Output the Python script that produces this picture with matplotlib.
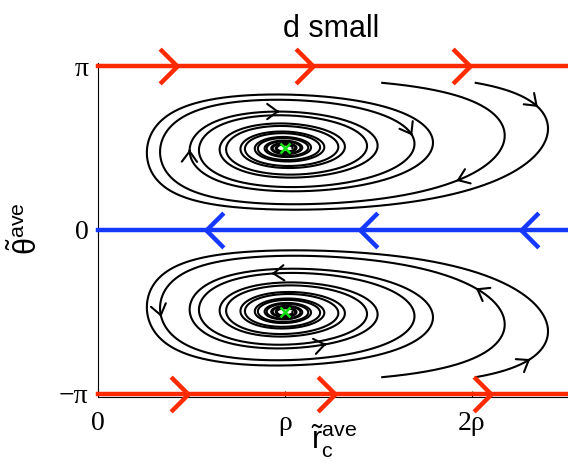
import numpy as np
import matplotlib
matplotlib.use("Agg")
import matplotlib.pyplot as plt
from matplotlib.path import Path
from matplotlib.markers import MarkerStyle

# averaged model parameters
rho = 1.0
k_turn = 2.0
c_lin = 0.07
c_cub = 0.095
d_damp = 0.11

# invariant lines and the chevrons on them (r positions of the tips)
line_theta = [np.pi, 0.0, -np.pi]
red_top_arrows = [0.42, 1.15, 1.99]
red_bottom_arrows = [0.48, 1.27, 2.10]
blue_arrows = [0.58, 1.40, 2.26]

# trajectory starts just inside the red lines
start_r = [1.52, 2.02]
start_theta = 2.82
run_time = [36.0, 38.0]

# where the direction arrows sit on the trajectories
arrows_upper = [(0.97, 2.27), (0.50, 1.54), (1.64, 1.73), (1.92, 0.90), (2.34, 2.31)]
arrows_lower = [(0.93, -0.90), (0.37, -1.63), (1.22, -2.15), (2.03, -1.06), (2.31, -2.46)]

xticks = [0, rho, 2 * rho]
xticklabels = ["0", "ρ", "2ρ"]
yticks = [-np.pi, 0, np.pi]
yticklabels = ["\u2212π", "0", "π"]

red = "#ff2a00"
blue = "#1438ff"
green = "#11e011"


def flow(r, th):
    u = r - rho
    dr = -np.cos(th) - c_lin * u - c_cub * u ** 3
    dth = -k_turn * u / np.sqrt(r / rho) * np.sin(th) + d_damp * np.sin(th) * np.cos(th)
    return dr, dth


def integrate(r0, th0, t_end, dt=0.005):
    n = int(t_end / dt)
    rs = np.empty(n + 1)
    ths = np.empty(n + 1)
    r, th = r0, th0
    rs[0], ths[0] = r, th
    for i in range(n):
        k1 = flow(r, th)
        k2 = flow(r + dt / 2 * k1[0], th + dt / 2 * k1[1])
        k3 = flow(r + dt / 2 * k2[0], th + dt / 2 * k2[1])
        k4 = flow(r + dt * k3[0], th + dt * k3[1])
        r += dt / 6 * (k1[0] + 2 * k2[0] + 2 * k3[0] + k4[0])
        th += dt / 6 * (k1[1] + 2 * k2[1] + 2 * k3[1] + k4[1])
        rs[i + 1], ths[i + 1] = r, th
    return rs, ths


plt.rcParams["mathtext.fontset"] = "custom"
plt.rcParams["mathtext.rm"] = "Liberation Sans"
plt.rcParams["mathtext.it"] = "Liberation Sans"

fig = plt.figure(figsize=(5.68, 4.70), dpi=100)
ax = fig.add_axes([98 / 568, 73 / 470, 2.6 * 187 / 568, 334 / 470])
ax.set_xlim(0, 2.6)
ax.set_ylim(-3.2, 3.2)

# invariant lines
line_colors = [red, blue, red]
for th, c in zip(line_theta, line_colors):
    ax.axhline(th, color=c, lw=3.2, zorder=3, clip_on=False)

chev_right = MarkerStyle(Path([(-1, 1), (0, 0), (-1, -1)]), joinstyle="miter")
chev_left = MarkerStyle(Path([(1, 1), (0, 0), (1, -1)]), joinstyle="miter")
ax.plot(red_top_arrows, [np.pi] * len(red_top_arrows), ls="none", marker=chev_right,
        ms=25, mew=3.2, mec=red, mfc="none", zorder=3, clip_on=False)
ax.plot(red_bottom_arrows, [-np.pi] * len(red_bottom_arrows), ls="none", marker=chev_right,
        ms=25, mew=3.2, mec=red, mfc="none", zorder=3, clip_on=False)
ax.plot(blue_arrows, [0] * len(blue_arrows), ls="none", marker=chev_left,
        ms=25, mew=3.2, mec=blue, mfc="none", zorder=3)

# trajectories into the two foci
curves = []
for sign in (1, -1):
    for r0, t_end in zip(start_r, run_time):
        rs, ths = integrate(r0, sign * start_theta, t_end)
        ax.plot(rs, ths, color="black", lw=1.5, zorder=2)
        curves.append((rs, ths))

# direction arrows snapped onto the nearest trajectory
for px, py in arrows_upper + arrows_lower:
    best = None
    for rs, ths in curves:
        dist = ((rs - px) * 187) ** 2 + ((ths - py) * 52.05) ** 2
        i = int(np.argmin(dist))
        if best is None or dist[i] < best[0]:
            best = (dist[i], rs, ths, i)
    _, rs, ths, i = best
    i = max(i, 3)
    ax.annotate("", xy=(rs[i], ths[i]), xytext=(rs[i - 3], ths[i - 3]),
                arrowprops=dict(arrowstyle="->,head_length=0.75,head_width=0.55",
                                lw=1.5, color="black", shrinkA=0, shrinkB=0),
                zorder=2)

ax.plot([rho, rho], [np.pi / 2, -np.pi / 2], ls="none", marker="x", ms=7,
        mew=1.8, color=green, zorder=4)

ax.spines["top"].set_visible(False)
ax.spines["right"].set_visible(False)
ax.spines["left"].set_linewidth(0.8)
ax.spines["bottom"].set_linewidth(0.8)
ax.set_xticks(xticks)
ax.set_xticklabels(xticklabels)
ax.set_yticks(yticks)
ax.set_yticklabels(yticklabels)
ax.tick_params(direction="in", length=4, width=0.8, labelsize=20)
ax.tick_params(axis="x", pad=10)
ax.tick_params(axis="y", pad=7)
for lab in ax.get_xticklabels() + ax.get_yticklabels():
    lab.set_fontfamily("Liberation Serif")

fig.text(331 / 568, 1 - 37 / 470, "d small", ha="center", va="baseline",
         fontsize=22, family="Liberation Sans")
fig.text(334 / 568, 1 - 441 / 470, r"$\tilde{\mathrm{r}}_{\mathrm{c}}^{\mathrm{ave}}$",
         ha="center", va="center", fontsize=22)
fig.text(26 / 568, 1 - 229 / 470, r"$\tilde{\theta}^{\mathrm{ave}}$",
         ha="center", va="center", fontsize=22, rotation=90)

fig.savefig("out.png", dpi=100)
